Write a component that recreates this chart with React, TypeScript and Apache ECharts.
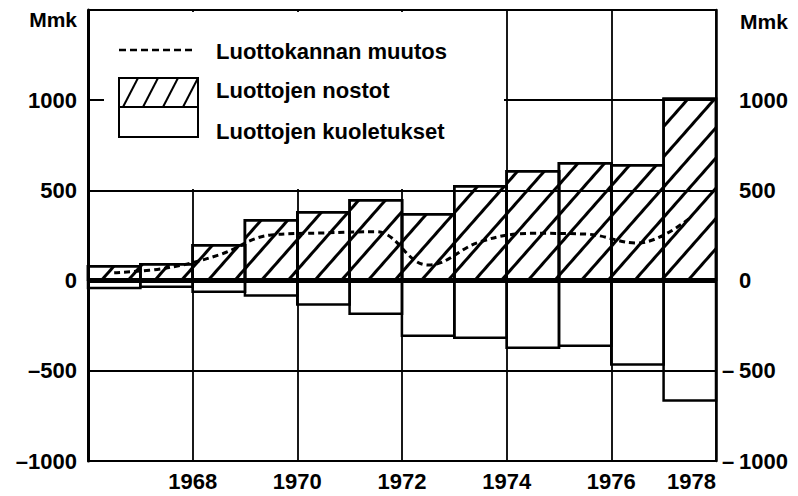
import React, { useEffect, useRef } from "react";
import * as echarts from "echarts";

const years = ["1967", "1968", "1969", "1970", "1971", "1972", "1973", "1974", "1975", "1976", "1977", "1978"];
const nostot = [86, 98, 203, 341, 386, 452, 375, 530, 613, 657, 646, 1015];
const kuoletukset = [-48, -41, -69, -89, -140, -191, -313, -324, -379, -368, -472, -672];
const kannanMuutos = [44, 70, 142, 253, 264, 271, 86, 216, 262, 258, 208, 347];
const xTickLabels = ["", "1968", "1970", "1972", "1974", "1976", "1978"];
const legendLabels = ["Luottokannan muutos", "Luottojen nostot", "Luottojen kuoletukset"];
const unitLabel = "Mmk";

const FONT = "'Liberation Sans', Arial, sans-serif";

function hatchLines(x0: number, y0: number, w: number, h: number, step: number, dx: number) {
  const out: any[] = [];
  for (let k = -2; k < 8; k++) {
    const bx = x0 + 4 + step * k;
    const ax = bx, ay = y0 + h, cx = bx + dx, cy = y0;
    const t0x = (x0 - ax) / (cx - ax);
    const t1x = (x0 + w - ax) / (cx - ax);
    const tmin = Math.max(0, Math.min(t0x, t1x));
    const tmax = Math.min(1, Math.max(t0x, t1x));
    if (tmax <= tmin) continue;
    out.push({
      type: "line",
      z: 101,
      shape: {
        x1: ax + (cx - ax) * tmin,
        y1: ay + (cy - ay) * tmin,
        x2: ax + (cx - ax) * tmax,
        y2: ay + (cy - ay) * tmax,
      },
      style: { stroke: "#000", lineWidth: 2 },
    });
  }
  return out;
}

export default function App() {
  const ref = useRef<HTMLDivElement>(null);
  useEffect(() => {
    const chart = echarts.init(ref.current!, null, { renderer: "svg" });
    const labelStyle = { fontFamily: FONT, fontWeight: "bold" as const, fontSize: 22, color: "#000" };
    const option: any = {
      animation: false,
      backgroundColor: "#fff",
      grid: { left: 88, right: 82, top: 10, bottom: 35, containLabel: false },
      xAxis: [
        {
          type: "category",
          data: years,
          position: "bottom",
          boundaryGap: true,
          axisLine: { onZero: false, lineStyle: { color: "#000", width: 2 } },
          axisTick: { show: false },
          axisLabel: { show: false },
          splitLine: { show: false },
        },
        {
          type: "value",
          min: 0,
          max: 12,
          interval: 2,
          position: "bottom",
          axisLine: { show: false },
          axisTick: { show: false },
          axisLabel: {
            ...labelStyle,
            margin: 9,
            alignMaxLabel: "right",
            formatter: (v: number) => xTickLabels[Math.round(v / 2)] ?? "",
          },
          splitLine: { show: true, lineStyle: { color: "#000", width: 1.8 } },
        },
        {
          type: "category",
          data: years,
          position: "top",
          axisLine: { show: true, lineStyle: { color: "#000", width: 2.5 } },
          axisTick: { show: false },
          axisLabel: { show: false },
        },
      ],
      yAxis: [
        {
          type: "value",
          min: -1000,
          max: 1500,
          interval: 500,
          position: "left",
          axisLine: { show: true, onZero: false, lineStyle: { color: "#000", width: 3 } },
          axisTick: { show: false },
          axisLabel: {
            ...labelStyle,
            margin: 11,
            formatter: (v: number) => (v >= 1500 ? "" : v < 0 ? "\u2013" + Math.abs(v) : String(v)),
          },
          splitLine: { show: true, lineStyle: { color: "#000", width: 1.8 } },
        },
        {
          type: "value",
          min: -1000,
          max: 1500,
          interval: 500,
          position: "right",
          axisLine: { show: true, onZero: false, lineStyle: { color: "#000", width: 2.5 } },
          axisTick: { show: false },
          axisLabel: {
            ...labelStyle,
            margin: 1,
            formatter: (v: number) =>
              v >= 1500 ? "" : v < 0 ? "{s|\u2013}{n|" + Math.abs(v) + "}" : "{s|}{n|" + v + "}",
            rich: {
              s: { ...labelStyle, width: 22, align: "right" },
              n: { ...labelStyle },
            },
          },
          splitLine: { show: false },
        },
      ],
      series: [
        {
          name: legendLabels[1],
          type: "bar",
          stack: "a",
          xAxisIndex: 0,
          yAxisIndex: 0,
          data: nostot,
          barWidth: 55,
          itemStyle: {
            color: "rgba(0,0,0,0)",
            borderColor: "#000",
            borderWidth: 2.5,
            decal: {
              symbol: "rect",
              symbolSize: 1,
              dashArrayX: [1, 0],
              dashArrayY: [2.6, 17],
              rotation: -Math.PI * 0.27,
              color: "#000",
            },
          },
          z: 1,
        },
        {
          name: legendLabels[2],
          type: "bar",
          stack: "a",
          xAxisIndex: 0,
          yAxisIndex: 0,
          data: kuoletukset,
          barWidth: 55,
          itemStyle: { color: "rgba(0,0,0,0)", borderColor: "#000", borderWidth: 2.5 },
          z: 1,
        },
        {
          name: legendLabels[0],
          type: "line",
          xAxisIndex: 0,
          yAxisIndex: 0,
          data: kannanMuutos,
          smooth: 0.4,
          symbol: "none",
          lineStyle: { color: "#000", width: 3, type: [6, 4] },
          z: 5,
          markLine: {
            silent: true,
            symbol: "none",
            label: { show: false },
            lineStyle: { color: "#000", width: 3, type: "solid" },
            data: [{ yAxis: 0 }],
          },
        },
      ],
      graphic: [
        { type: "rect", z: 100, shape: { x: 104, y: 12, width: 400, height: 170 }, style: { fill: "#fff" } },
        { type: "rect", z: 100, shape: { x: 104, y: 181, width: 349, height: 8 }, style: { fill: "#fff" } },
        { type: "line", z: 101, shape: { x1: 119, y1: 50, x2: 196, y2: 50 }, style: { stroke: "#000", lineWidth: 2.5, lineDash: [7, 4] } },
        { type: "rect", z: 101, shape: { x: 119, y: 78, width: 79, height: 29 }, style: { fill: "#fff", stroke: "#000", lineWidth: 2 } },
        ...hatchLines(119, 78, 79, 29, 20, 15),
        { type: "rect", z: 101, shape: { x: 119, y: 107, width: 79, height: 30 }, style: { fill: "none", stroke: "#000", lineWidth: 2 } },
        { type: "text", z: 102, x: 216, y: 51, style: { text: legendLabels[0], font: `bold 22px ${FONT}`, fill: "#000", textVerticalAlign: "middle" } },
        { type: "text", z: 102, x: 216, y: 90, style: { text: legendLabels[1], font: `bold 22px ${FONT}`, fill: "#000", textVerticalAlign: "middle" } },
        { type: "text", z: 102, x: 216, y: 131, style: { text: legendLabels[2], font: `bold 22px ${FONT}`, fill: "#000", textVerticalAlign: "middle" } },
        { type: "text", z: 102, x: 77, y: 19, style: { text: unitLabel, font: `bold 21px ${FONT}`, fill: "#000", textAlign: "right", textVerticalAlign: "middle" } },
        { type: "text", z: 102, x: 740, y: 21, style: { text: unitLabel, font: `bold 21px ${FONT}`, fill: "#000", textAlign: "left", textVerticalAlign: "middle" } },
      ],
    };
    chart.setOption(option);
    return () => chart.dispose();
  }, []);
  return <div ref={ref} style={{ position: "fixed", left: 0, top: 0, width: 798, height: 496 }} />;
}
